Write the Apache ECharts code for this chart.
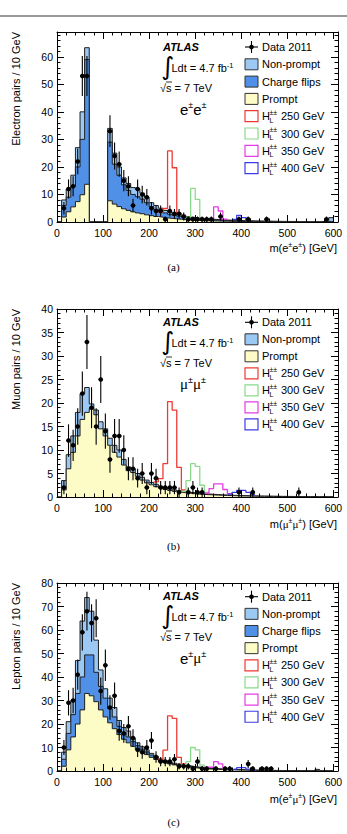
<!DOCTYPE html>
<html><head><meta charset="utf-8">
<script src="https://cdn.jsdelivr.net/npm/echarts@6/dist/echarts.min.js"></script>
<style>html,body{margin:0;padding:0;background:#fff;}#c{width:347px;height:834px;}</style>
</head><body><div id="c"></div>
<script>
// ---------- data: 10 GeV bins, low edges 0..590 ----------
const binLow = Array.from({length:60},(_,i)=>i*10);
const xTicks = [0,100,200,300,400,500,600];

// (a) e±e±
const aPrompt = [0,1.8,3.7,5.5,7.4,9.9,13.7,0,0,0, 0,7.7,6.5,5.6,4.8,4.2,3.7,3.3,3.0,2.6, 2.3,2.0,1.75,1.5,1.3,1.15,1.0,0.85,0.75,0.65, 0.58,0.5,0.45,0.4,0.35,0.31,0.28,0.25,0.22,0.2, 0.18,0.16,0.14,0.13,0.12,0.11,0.1,0.09,0.08,0.08, 0.07,0.07,0.06,0.06,0.05,0.05,0.05,0.04,0.04,0.04];
const aFlip = [0,4.2,5.3,7.5,12.6,20.1,45.3,0,0,0, 0,21.3,14.5,11.4,8.7,7.3,6.3,5.9,5.3,4.4, 3.3,2.6,2.15,1.8,1.5,1.25,1.1,0.95,0.8,0.7, 0.62,0.55,0.47,0.4,0.35,0.31,0.28,0.25,0.22,0.2, 0.18,0.16,0.14,0.13,0.12,0.11,0.1,0.09,0.08,0.08, 0.07,0.07,0.06,0.06,0.05,0.05,0.05,0.04,0.04,0.04];
const aNonPrompt = [0,2,3,4,7,10,4.3,0,0,0, 0,5,4,3,2.5,2.5,2.5,2.8,2.2,2, 1.4,1.4,1.1,0.9,0.8,0.7,0.6,0.5,0.45,0.35, 0.3,0.25,0.23,0.2,0.2,0.18,0.16,0.15,0.14,0.13, 0.12,0.11,0.1,0.09,0.09,0.08,0.08,0.07,0.07,0.06, 0.06,0.06,0.05,0.05,0.05,0.05,0.04,0.04,0.04,1.5];
const aData = [null,5,12,13,22,53,53,null,null,null, null,33,24,21,15,13,6,12,10,9, 5,4,4,1,4,3,3,2,1,1, 1,1,1,1,null,2,null,null,null,1, null,1,null,null,null,1,null,null,null,null, null,null,null,null,null,null,null,null,1,null];
const aH250x = [220,230,240,250,260,270], aH250 = [3.5,4.9,25.8,19.7,3.0,2.5];
const aH300x = [280,290,300,310],         aH300 = [1.8,12.2,8.2,1.2];
const aH350x = [330,340,350,360],         aH350 = [1.2,5.5,4.0,1.0];
const aH400x = [380,390,400,410],         aH400 = [0.9,2.4,1.6,0.7];

// (b) μ±μ±
const bPrompt = [0,1.5,6,9.5,13,16.5,18,18.8,17.5,14.5, 13,11,9.5,8.5,6.8,5.6,5.2,4.4,3.6,3.0, 2.6,2.2,1.9,1.6,1.4,1.2,1.05,0.9,0.8,0.7, 0.6,0.55,0.5,0.45,0.4,0.36,0.32,0.29,0.26,0.23, 0.21,0.19,0.17,0.15,0.14,0.13,0.12,0.11,0.1,0.09, 0.08,0.08,0.07,0.07,0.06,0.06,0.05,0.05,0.05,0.04];
const bNonPrompt = [0,2,3,3.5,5,5.5,5.3,1.0,1.0,1.5, 1.5,1.5,1.5,1.5,1.2,0.8,0.8,0.6,0.6,0.6, 0.5,0.5,0.4,0.4,0.35,0.3,0.25,0.25,0.2,0.2, 0.2,0.15,0.15,0.12,0.12,0.1,0.1,0.09,0.08,0.08, 0.07,0.07,0.06,0.06,0.05,0.05,0.05,0.04,0.04,0.04, 0.04,0.03,0.03,0.03,0.03,0.03,0.02,0.02,0.02,0.02];
const bData = [null,2,12,11,15,22,33,19,15,25, 14,8,13,13,10,6,6,4,5,2, 5,4,2,2,2,2,1,null,1,2, 1,1,null,null,null,null,null,null,null,1, null,null,1,null,null,null,null,null,null,null, null,null,1,null,null,null,null,null,null,null];
const bH250x = [210,220,230,240,250,260,270], bH250 = [3.2,3.9,7.1,20.3,18.5,6.3,1.5];
const bH300x = [270,280,290,300,310,320],     bH300 = [1.2,3.5,7.1,6.5,2.5,1.0];
const bH350x = [320,330,340,350,360,370],     bH350 = [0.8,1.8,2.8,2.8,1.6,0.7];
const bH400x = [370,380,390,400,410,420],     bH400 = [0.6,1.0,1.4,1.4,1.0,0.5];

// (c) e±μ±
const cPrompt = [0,2,9,14.5,20,26,33,32,29.5,26, 23,20.5,18,15.5,13.5,12,10.5,9.2,8,7, 5.8,4.9,4.1,3.5,3,2.6,2.2,1.9,1.6,1.4, 1.2,1.05,0.9,0.8,0.7,0.62,0.55,0.48,0.43,0.38, 0.34,0.3,0.27,0.24,0.22,0.2,0.18,0.16,0.14,0.13, 0.12,0.11,0.1,0.09,0.08,0.08,0.07,0.07,0.06,0.06];
const cFlip = [0,3,7,9.5,13,14,16.4,17.4,12.5,10, 8,6,5,3.5,3,2.5,2,1.6,1.3,1.1, 1.0,0.7,0.6,0.5,0.4,0.3,0.3,0.3,0.3,0.25, 0.25,0.2,0.2,0.15,0.15,0.13,0.11,0.1,0.09,0.08, 0.07,0.06,0.06,0.05,0.05,0.04,0.04,0.04,0.03,0.03, 0.03,0.03,0.02,0.02,0.02,0.02,0.02,0.02,0.02,0.02];
const cNonPrompt = [0,3,5,6,14,23.8,24.4,18.6,13.7,7, 4,4.5,4,2.5,2,2.5,1.5,1.2,1,0.9, 0.7,0.6,0.5,0.4,0.4,0.4,0.4,0.3,0.3,0.25, 0.2,0.2,0.15,0.15,0.1,0.1,0.09,0.08,0.08,0.07, 0.06,0.06,0.05,0.05,0.05,0.04,0.04,0.04,0.04,0.03, 0.03,0.03,0.03,0.03,0.03,0.03,0.6,0.03,0.03,0.03];
const cData = [null,10,29,30,41,59,68,63,65,34, 45,27,32,17,16,19,14,9,8,10, 13,6,4,4,4,5,2,2,2,1, 4,1,1,null,1,null,1,1,null,null, null,3,1,null,1,1,1,null,null,null, null,null,null,null,null,null,null,null,null,null];
const cH250x = [220,230,240,250,260,270], cH250 = [5.2,8.9,23.5,22.4,5.8,3.0];
const cH300x = [270,280,290,300,310,320], cH300 = [2.6,4,10,9,2.5,1.4];
const cH350x = [320,330,340,350,360,370], cH350 = [1.6,1.6,4,3,1.1,0.7];
const cH400x = [370,380,390,400,410,420], cH400 = [0.6,0.9,1.4,1.4,0.8,0.4];

// ---------- style ----------
const FONT = '"Liberation Sans", Arial, Helvetica, sans-serif';
const SERIF = '"Liberation Serif", "Times New Roman", serif';
const C_NP = '#9cc8f4', C_CF = '#5090e6', C_PR = '#fdfcc6';
const C_250 = '#ee3a32', C_300 = '#8ada8a', C_350 = '#e63ce6', C_400 = '#3c3ce8';

const panels = [
  {top:32, h:190, ymax:69, yint:10, ymin:2, ytitle:'Electron pairs / 10 GeV',
   comps:[[aPrompt,C_PR],[aFlip,C_CF],[aNonPrompt,C_NP]], data:aData,
   sig:[[aH250x,aH250,C_250],[aH300x,aH300,C_300],[aH350x,aH350,C_350],[aH400x,aH400,C_400]],
   xt:['e','e'], chan:['e','e'], lab:'(a)', labY:267, xtY:248, A:47, flips:true, legY:47, legDy:17.3},
  {top:309, h:188, ymax:40, yint:5, ymin:1, ytitle:'Muon pairs / 10 GeV',
   comps:[[bPrompt,C_PR],[bNonPrompt,C_NP]], data:bData,
   sig:[[bH250x,bH250,C_250],[bH300x,bH300,C_300],[bH350x,bH350,C_350],[bH400x,bH400,C_400]],
   xt:['μ','μ'], chan:['μ','μ'], lab:'(b)', labY:546, xtY:524, A:322, flips:false, legY:322.3, legDy:17},
  {top:583, h:188, ymax:80, yint:10, ymin:2, ytitle:'Lepton pairs / 10 GeV',
   comps:[[cPrompt,C_PR],[cFlip,C_CF],[cNonPrompt,C_NP]], data:cData,
   sig:[[cH250x,cH250,C_250],[cH300x,cH300,C_300],[cH350x,cH350,C_350],[cH400x,cH400,C_400]],
   xt:['e','μ'], chan:['e','μ'], lab:'(c)', labY:822, xtY:799, A:596, flips:true, legY:596.7, legDy:17.15}
];

function stepPts(vals){
  const p = [[binLow[0],0]];
  vals.forEach((v,i)=>p.push([binLow[i], v]));
  p.push([binLow[binLow.length-1]+10, vals[vals.length-1]]);
  p.push([binLow[binLow.length-1]+10, 0]);
  return p;
}

const option = {animation:false, backgroundColor:'#fff', grid:[], xAxis:[], yAxis:[], series:[], graphic:[]};
const G = [];

G.push({type:'line', shape:{x1:0,y1:16,x2:347,y2:16}, style:{stroke:'#777', lineWidth:1.3}});

panels.forEach((P,i)=>{
  option.grid.push({left:57, top:P.top, width:281, height:P.h});
  const xm = (pos, major) => ({gridIndex:i, type:'value', min:0, max:610, interval: major?100:20, position:pos,
    axisLine:{show:major, onZero:false, lineStyle:{color:'#000', width:1}},
    axisTick:{show:true, inside:true, length: major?7:3.5, lineStyle:{color:'#000', width:1}},
    axisLabel:{show: major && pos==='bottom', margin:5, fontSize:10.5, color:'#000', fontFamily:FONT,
      formatter: v => xTicks.indexOf(v)>=0 ? String(v) : ''},
    splitLine:{show:false}, z:10});
  option.xAxis.push(xm('bottom',true), xm('bottom',false), xm('top',true), xm('top',false));
  const ym = (pos, major) => ({gridIndex:i, type:'value', min:0, max:P.ymax, interval: major?P.yint:P.ymin, position:pos,
    axisLine:{show:major, onZero:false, lineStyle:{color:'#000', width:1}},
    axisTick:{show:true, inside:true, length: major?7:3.5, lineStyle:{color:'#000', width:1}},
    axisLabel:{show: major && pos==='left', margin:4, fontSize:10.5, color:'#000', fontFamily:FONT,
      formatter: v => (v % P.yint === 0) ? String(v) : ''},
    splitLine:{show:false}, z:10});
  option.yAxis.push(ym('left',true), ym('left',false), ym('right',true), ym('right',false));

  const xi = i*4, yi = i*4;
  // stacked histogram: cumulative sums, drawn top layer first
  const cum = [];
  let run = binLow.map(()=>0);
  P.comps.forEach(([vals,col])=>{ run = run.map((s,k)=>s+vals[k]); cum.push([run.slice(), col]); });
  cum.slice().reverse().forEach(([vals,col],k)=>{
    option.series.push({type:'line', xAxisIndex:xi, yAxisIndex:yi, step:'end', symbol:'none',
      data: stepPts(vals), lineStyle:{color:'#1e1e1e', width:1}, areaStyle:{color:col, opacity:1, origin:'start'}, z:2+k*0.01, silent:true});
  });
  P.sig.forEach(([xs,vs,col])=>{
    const d = xs.map((x,j)=>[x, vs[j]]);
    d.push([xs[xs.length-1]+10, vs[vs.length-1]]);
    option.series.push({type:'line', xAxisIndex:xi, yAxisIndex:yi, step:'end', symbol:'none', data:d,
      lineStyle:{color:col, width:1.3}, z:3, silent:true});
  });
  const pts = [];
  P.data.forEach((n,k)=>{ if(n!==null) pts.push([binLow[k]+5, n]); });
  option.series.push({type:'custom', xAxisIndex:xi, yAxisIndex:yi, z:5, silent:true, data:pts,
    renderItem:(params, api)=>{
      const x = api.value(0), n = api.value(1), e = Math.sqrt(n);
      const c = api.coord([x,n]), t = api.coord([x,n+e]), b = api.coord([x,Math.max(0,n-e)]);
      const l = api.coord([x-5,n]), r = api.coord([x+5,n]);
      return {type:'group', children:[
        {type:'line', shape:{x1:c[0],y1:t[1],x2:c[0],y2:b[1]}, style:{stroke:'#000', lineWidth:1.1}},
        {type:'line', shape:{x1:l[0],y1:c[1],x2:r[0],y2:c[1]}, style:{stroke:'#000', lineWidth:1.1}},
        {type:'circle', shape:{cx:c[0],cy:c[1],r:2.3}, style:{fill:'#000'}}
      ]};
    }});

  // axis titles
  G.push({type:'text', x:16, y:P.top, rotation:Math.PI/2,
    style:{text:P.ytitle, font:'11px '+FONT, fill:'#000', align:'right', verticalAlign:'middle'}});
  const sup = (c)=>c==='μ' ? '{m|μ}{s|±}' : '{b|e}{s|±}';
  G.push({type:'text', x:337, y:P.xtY,
    style:{text:'{b|m(}'+sup(P.xt[0])+sup(P.xt[1])+'{b|) [GeV]}', align:'right', verticalAlign:'middle',
      rich:{b:{fontSize:11, fontFamily:FONT, lineHeight:14}, m:{fontSize:11, fontFamily:SERIF, lineHeight:14},
            s:{fontSize:7, fontFamily:FONT, verticalAlign:'top', lineHeight:8}}}});
  G.push({type:'text', x:173.5, y:P.labY, style:{text:P.lab, font:'11px '+SERIF, fill:'#000', align:'center', verticalAlign:'middle'}});

  // ATLAS block
  const A = P.A;
  G.push({type:'text', x:163, y:A, style:{text:'ATLAS', font:'italic bold 11px '+FONT, fill:'#000', align:'left', verticalAlign:'middle'}});
  G.push({type:'text', x:161, y:A+19, style:{text:'∫', font:'25px "DejaVu Sans"', fill:'#000', align:'left', verticalAlign:'middle'}});
  G.push({type:'text', x:171.5, y:A+21, style:{text:'{n|Ldt = 4.7 fb}{s|-1}', align:'left', verticalAlign:'middle',
    rich:{n:{fontSize:11, fontFamily:FONT, lineHeight:14}, s:{fontSize:7.5, fontFamily:FONT, verticalAlign:'top', lineHeight:8}}}});
  G.push({type:'text', x:160, y:A+41, style:{text:'√s = 7 TeV', font:'11px '+FONT, fill:'#000', align:'left', verticalAlign:'middle'}});
  G.push({type:'line', shape:{x1:166,y1:A+35,x2:172,y2:A+35}, style:{stroke:'#000', lineWidth:0.8}});
  const ch = (c)=>c==='μ' ? '{m|μ}{s|±}' : '{b|e}{s|±}';
  G.push({type:'text', x:180, y:A+62, style:{text:ch(P.chan[0])+ch(P.chan[1]), align:'left', verticalAlign:'middle',
    rich:{b:{fontSize:15, fontFamily:FONT, lineHeight:18}, m:{fontSize:15, fontFamily:SERIF, lineHeight:18},
          s:{fontSize:9, fontFamily:FONT, verticalAlign:'top', lineHeight:10}}}});

  // legend
  const items = [['data','Data 2011'],['box','Non-prompt',C_NP]];
  if (P.flips) items.push(['box','Charge flips',C_CF]);
  items.push(['box','Prompt',C_PR]);
  [['250',C_250],['300',C_300],['350',C_350],['400',C_400]].forEach(([m,c])=>items.push(['h',m,c]));
  items.forEach((it,k)=>{
    const cy = P.legY + k*P.legDy;
    if (it[0]==='data'){
      G.push({type:'line', shape:{x1:245,y1:cy,x2:258,y2:cy}, style:{stroke:'#000', lineWidth:1.1}});
      G.push({type:'line', shape:{x1:251.5,y1:cy-6,x2:251.5,y2:cy+6}, style:{stroke:'#000', lineWidth:1.1}});
      G.push({type:'circle', shape:{cx:251.5,cy:cy,r:2.3}, style:{fill:'#000'}});
      G.push({type:'text', x:262, y:cy, style:{text:it[1], font:'11px '+FONT, fill:'#000', align:'left', verticalAlign:'middle'}});
    } else if (it[0]==='box'){
      G.push({type:'rect', shape:{x:245,y:cy-5.5,width:13,height:11}, style:{fill:it[2], stroke:'#333', lineWidth:1}});
      G.push({type:'text', x:262, y:cy, style:{text:it[1], font:'11px '+FONT, fill:'#000', align:'left', verticalAlign:'middle'}});
    } else {
      G.push({type:'rect', shape:{x:245,y:cy-5.5,width:13,height:11}, style:{fill:'#fff', stroke:it[2], lineWidth:1.2}});
      G.push({type:'text', x:262, y:cy, style:{text:'H', font:'11px '+FONT, fill:'#000', align:'left', verticalAlign:'middle'}});
      G.push({type:'text', x:269.5, y:cy-4, style:{text:'±±', font:'7px '+FONT, fill:'#000', align:'left', verticalAlign:'middle'}});
      G.push({type:'text', x:269.5, y:cy+4, style:{text:'L', font:'7px '+FONT, fill:'#000', align:'left', verticalAlign:'middle'}});
      G.push({type:'text', x:281, y:cy, style:{text:it[1]+' GeV', font:'11px '+FONT, fill:'#000', align:'left', verticalAlign:'middle'}});
    }
  });
});
option.graphic = G.map(g => Object.assign({z:100}, g));

const chart = echarts.init(document.getElementById('c'), null, {renderer:'svg', width:347, height:834});
chart.setOption(option);
</script>
</body></html>
